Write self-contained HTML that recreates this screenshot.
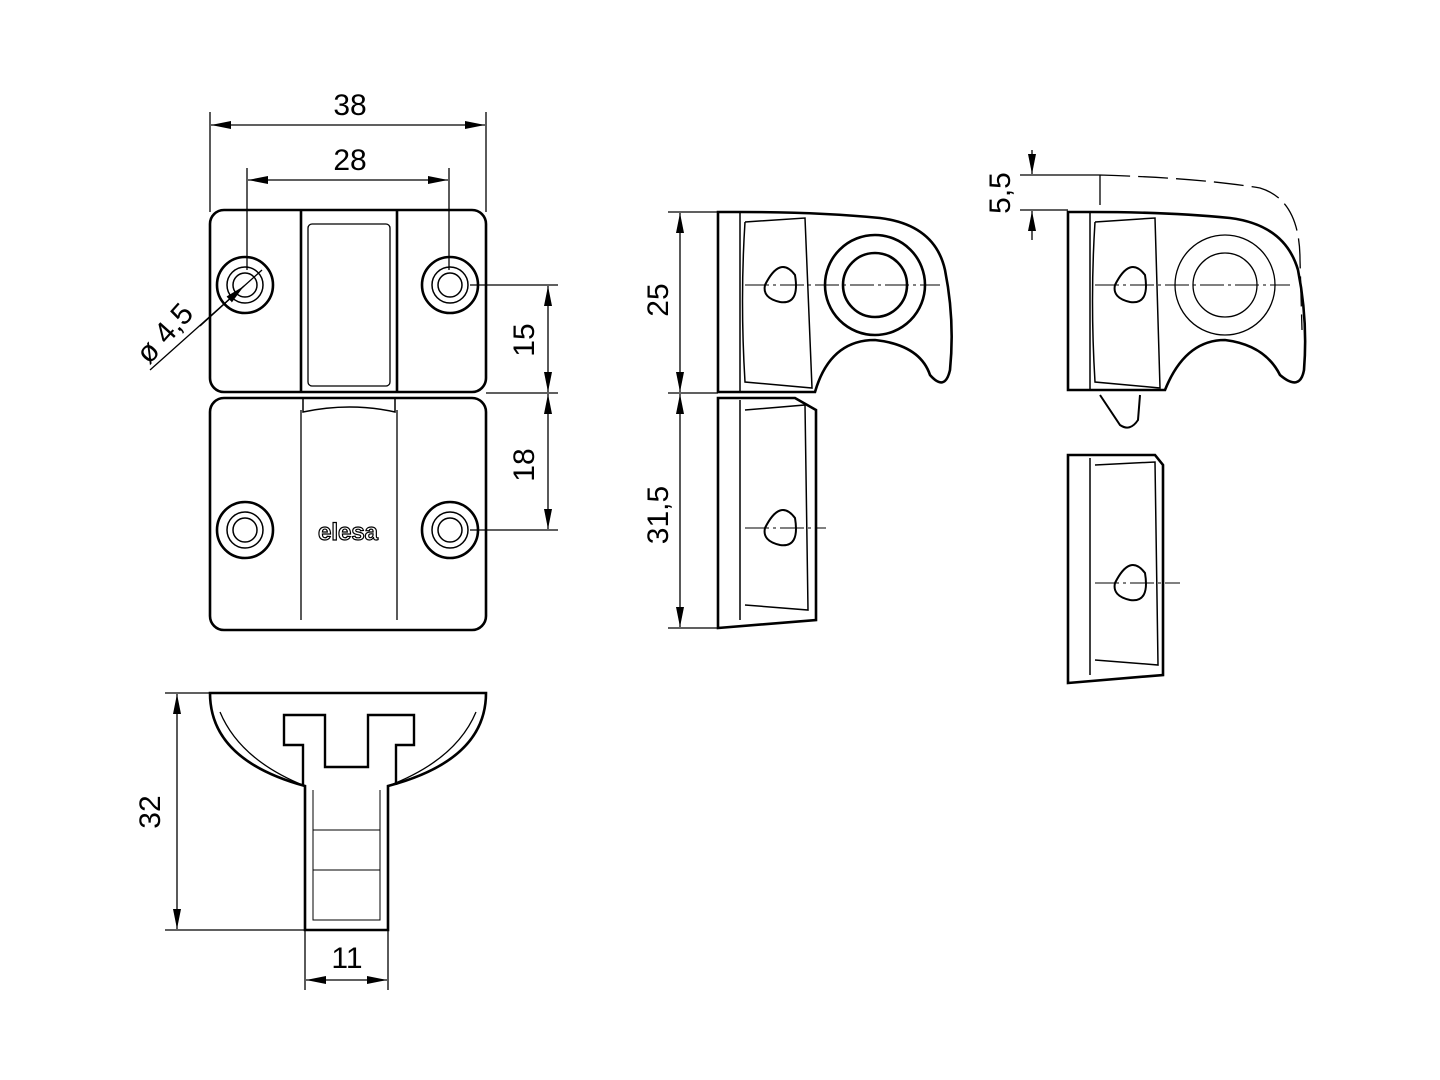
<!DOCTYPE html>
<html><head><meta charset="utf-8"><style>body{margin:0;background:#fff}svg{display:block}</style></head><body>
<svg width="1440" height="1080" viewBox="0 0 1440 1080" xmlns="http://www.w3.org/2000/svg" font-family="Liberation Sans, sans-serif">
<defs><marker id="a" viewBox="0 0 20 8" refX="20" refY="4" markerWidth="20" markerHeight="8" orient="auto-start-reverse" markerUnits="userSpaceOnUse"><path d="M0,0 L20,4 L0,8z" fill="#000"/></marker></defs>
<g fill="none" stroke="#000" stroke-width="1.3">
<line x1="210" y1="112" x2="210" y2="212"/><line x1="486" y1="112" x2="486" y2="212"/>
<line x1="211" y1="125" x2="485" y2="125" marker-start="url(#a)" marker-end="url(#a)"/>
<line x1="247" y1="168" x2="247" y2="270"/><line x1="449" y1="168" x2="449" y2="270"/>
<line x1="248" y1="180" x2="448" y2="180" marker-start="url(#a)" marker-end="url(#a)"/>
<line x1="470" y1="285" x2="558" y2="285"/><line x1="486" y1="393" x2="558" y2="393"/><line x1="470" y1="530" x2="558" y2="530"/>
<line x1="548" y1="286" x2="548" y2="392" marker-start="url(#a)" marker-end="url(#a)"/>
<line x1="548" y1="394" x2="548" y2="529" marker-start="url(#a)" marker-end="url(#a)"/>
<line x1="150" y1="370" x2="262" y2="270"/>
<line x1="200" y1="326" x2="244" y2="286" marker-end="url(#a)"/>
</g>
<g stroke="#000" stroke-width="2.6" fill="none">
<rect x="210" y="210" width="276" height="182" rx="14"/>
<line x1="301" y1="210" x2="301" y2="392"/><line x1="397" y1="210" x2="397" y2="392"/>
<rect x="308" y="224" width="82" height="162" rx="4" stroke-width="1.3"/>
<circle cx="245" cy="285" r="28"/><circle cx="245" cy="285" r="18" stroke-width="1.5"/><circle cx="245" cy="285" r="12" stroke-width="1.5"/>
<circle cx="450" cy="285" r="28"/><circle cx="450" cy="285" r="18" stroke-width="1.5"/><circle cx="450" cy="285" r="12" stroke-width="1.5"/>
<rect x="210" y="398" width="276" height="232" rx="14"/>
<line x1="301" y1="410" x2="301" y2="620" stroke-width="1.3"/><line x1="397" y1="410" x2="397" y2="620" stroke-width="1.3"/>
<path d="M303,398 L303,412 Q350,402 395,412 L395,398" stroke-width="1.5"/>
<circle cx="245" cy="530" r="28"/><circle cx="245" cy="530" r="18" stroke-width="1.5"/><circle cx="245" cy="530" r="12" stroke-width="1.5"/>
<circle cx="450" cy="530" r="28"/><circle cx="450" cy="530" r="18" stroke-width="1.5"/><circle cx="450" cy="530" r="12" stroke-width="1.5"/>
<path d="M210,693 L486,693 Q486,760 388,786 L388,930 L305,930 L305,786 Q210,760 210,693Z"/>
<path d="M303,785 L303,745 L284,745 L284,715 L325,715 L325,767 L368,767 L368,715 L414,715 L414,745 L396,745 L396,785" stroke-width="2.4"/>
<path d="M220,712 Q240,760 305,786 M476,712 Q456,760 388,786" stroke-width="1.3"/>
<path d="M313,790 L313,920 L380,920 L380,790 M313,830 L380,830 M313,870 L380,870" stroke-width="1"/>
</g>
<g fill="none" stroke="#000" stroke-width="1.3">
<line x1="165" y1="693" x2="210" y2="693"/><line x1="165" y1="930" x2="305" y2="930"/>
<line x1="177" y1="694" x2="177" y2="929" marker-start="url(#a)" marker-end="url(#a)"/>
<line x1="305" y1="930" x2="305" y2="990"/><line x1="388" y1="930" x2="388" y2="990"/>
<line x1="306" y1="980" x2="387" y2="980" marker-start="url(#a)" marker-end="url(#a)"/>
<line x1="668" y1="212" x2="718" y2="212"/><line x1="668" y1="393" x2="718" y2="393"/><line x1="668" y1="628" x2="718" y2="628"/>
<line x1="680" y1="213" x2="680" y2="392" marker-start="url(#a)" marker-end="url(#a)"/>
<line x1="680" y1="394" x2="680" y2="627" marker-start="url(#a)" marker-end="url(#a)"/>
<line x1="1020" y1="175" x2="1100" y2="175"/><line x1="1020" y1="210" x2="1068" y2="210"/>
<line x1="1032" y1="150" x2="1032" y2="174" marker-end="url(#a)"/>
<line x1="1032" y1="240" x2="1032" y2="211" marker-end="url(#a)"/>
<path d="M1100,175 L1100,212 M1100,175 Q1200,178 1260,188 Q1300,200 1300,260 L1302,330" stroke-dasharray="30,8"/>
</g>
<g stroke="#000" stroke-width="2.6" fill="none">
<path d="M718,212 L718,392 L815,392 Q830,340 875,340 Q920,345 930,375 Q945,392 950,370 Q955,320 945,270 Q935,225 880,218 Q820,212 740,212Z"/>
<path d="M740,212 L740,392 M745,222 L805,218 L812,388 L745,382 Q740,300 745,222" stroke-width="1.5"/>
<circle cx="875" cy="285" r="50"/><circle cx="875" cy="285" r="32"/>
<path d="M765,285 Q780,255 795,275 Q800,305 780,302 Q762,298 765,285Z" stroke-width="2"/>
<path d="M718,398 L718,628 L816,620 L816,410 L795,398Z"/>
<path d="M740,400 L740,620 M745,410 L805,405 L808,610 L745,605" stroke-width="1.5"/>
<path d="M765,528 Q780,498 795,518 Q800,548 780,545 Q762,541 765,528Z" stroke-width="2"/>
<path d="M1068,212 L1068,390 L1165,390 Q1185,340 1225,340 Q1265,345 1280,375 Q1300,392 1304,370 Q1308,320 1298,270 Q1285,225 1230,218 Q1170,212 1090,212Z"/>
<path d="M1090,212 L1090,390 M1095,222 L1155,218 L1160,388 L1095,382 Q1090,300 1095,222" stroke-width="1.5"/>
<circle cx="1225" cy="285" r="50" stroke-width="1.3"/><circle cx="1225" cy="285" r="32" stroke-width="1.3"/>
<path d="M1115,285 Q1130,255 1145,275 Q1150,305 1130,302 Q1112,298 1115,285Z" stroke-width="2"/>
<path d="M1100,395 L1120,425 Q1130,432 1138,420 L1140,395" stroke-width="2"/>
<path d="M1068,455 L1068,683 L1163,675 L1163,465 L1155,455Z"/>
<path d="M1090,458 L1090,675 M1095,465 L1155,462 L1158,665 L1095,660" stroke-width="1.5"/>
<path d="M1115,583 Q1130,553 1145,573 Q1150,603 1130,600 Q1112,596 1115,583Z" stroke-width="2"/>
</g>
<g stroke="#000" stroke-width="1" stroke-dasharray="24,4,3,4">
<line x1="745" y1="285" x2="940" y2="285"/><line x1="745" y1="528" x2="826" y2="528"/>
<line x1="1095" y1="285" x2="1290" y2="285"/><line x1="1095" y1="583" x2="1180" y2="583"/>
</g>
<g font-size="30" fill="#000" text-anchor="middle">
<text x="350" y="115">38</text><text x="350" y="170">28</text>
<text x="347" y="968">11</text>
<text transform="translate(534,340) rotate(-90)">15</text>
<text transform="translate(534,465) rotate(-90)">18</text>
<text transform="translate(160,812) rotate(-90)">32</text>
<text transform="translate(668,300) rotate(-90)">25</text>
<text transform="translate(668,515) rotate(-90)">31,5</text>
<text transform="translate(1010,193) rotate(-90)">5,5</text>
<text transform="translate(172,340) rotate(-48)">ø 4,5</text>
</g>
<text x="348" y="540" font-size="24" font-weight="bold" fill="#fff" stroke="#000" stroke-width="1.2" text-anchor="middle">elesa</text>
</svg>
</body></html>
